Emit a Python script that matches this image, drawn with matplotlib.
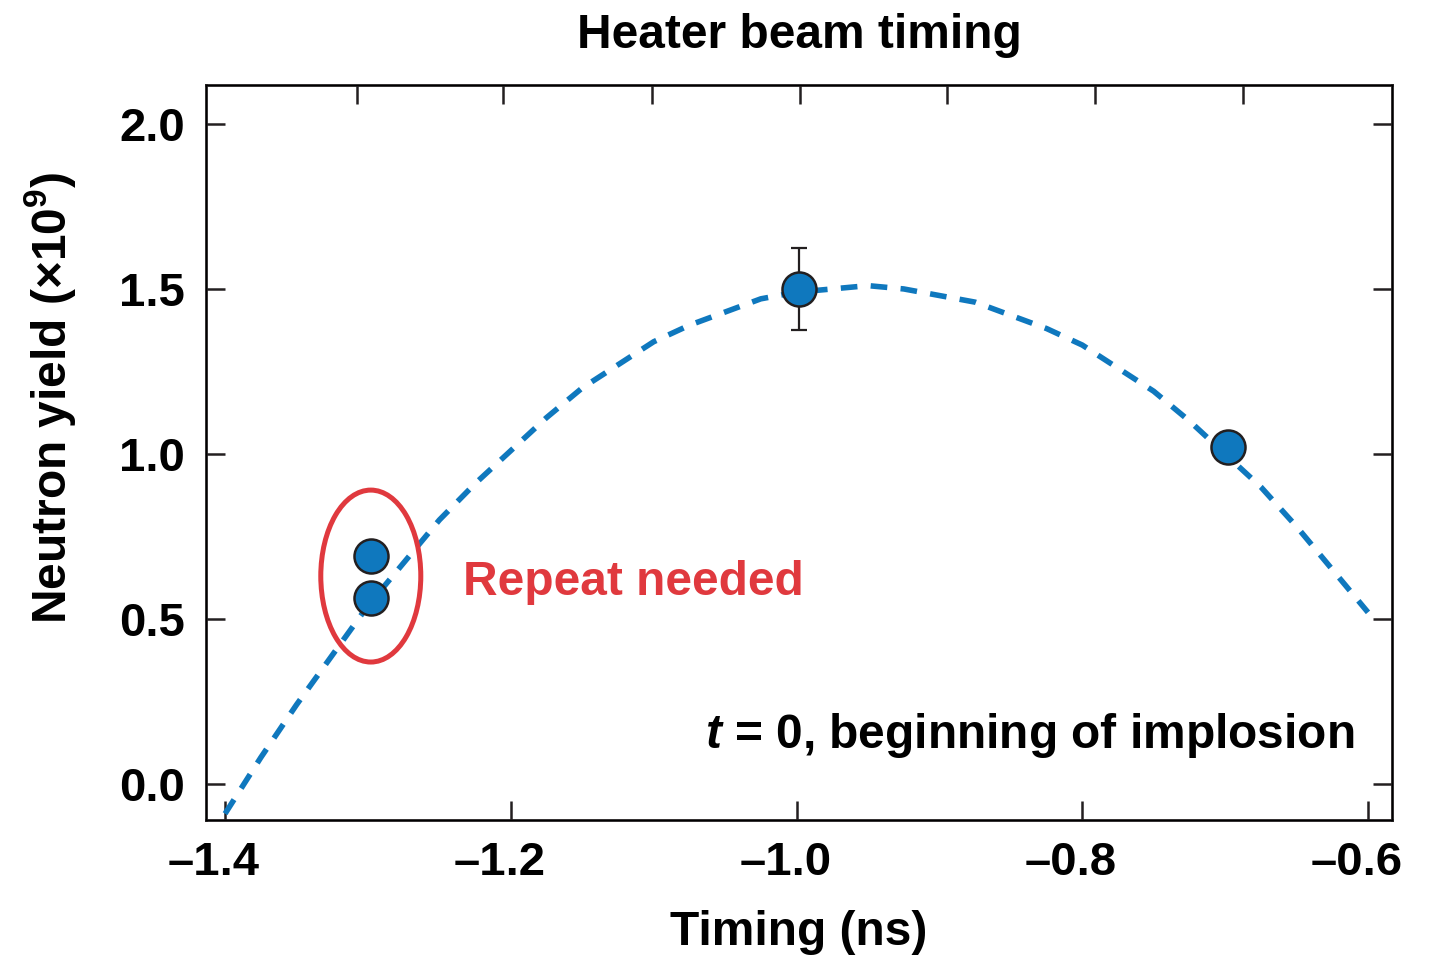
import numpy as np
import matplotlib.pyplot as plt
from matplotlib.patches import Ellipse
from matplotlib.transforms import ScaledTranslation

plt.rcParams['font.family'] = ['Liberation Sans', 'DejaVu Sans']
plt.rcParams['font.weight'] = 'bold'
plt.rcParams['mathtext.fontset'] = 'custom'
plt.rcParams['mathtext.rm'] = 'Liberation Sans:bold'
plt.rcParams['mathtext.bf'] = 'Liberation Sans:bold'
plt.rcParams['mathtext.it'] = 'Liberation Sans:bold:italic'

# measured shots
timing = [-1.298, -1.298, -0.998, -0.698]
neutron_yield = [0.69, 0.565, 1.50, 1.02]
yield_err = [0.0, 0.0, 0.125, 0.0]

# dashed fit curve
fit_t = [-1.40, -1.375, -1.35, -1.325, -1.30, -1.275, -1.25, -1.225, -1.20,
         -1.175, -1.15, -1.125, -1.10, -1.075, -1.05, -1.025, -1.00,
         -0.975, -0.95, -0.925, -0.90, -0.875, -0.85, -0.825, -0.80,
         -0.775, -0.75, -0.725, -0.70, -0.675, -0.65, -0.625, -0.60]
fit_y = [-0.09, 0.08, 0.24, 0.39, 0.54, 0.67, 0.80, 0.91, 1.01,
         1.11, 1.20, 1.27, 1.34, 1.39, 1.43, 1.47, 1.49,
         1.50, 1.51, 1.50, 1.48, 1.46, 1.42, 1.38, 1.33,
         1.26, 1.19, 1.10, 1.00, 0.90, 0.78, 0.65, 0.52]

xticks = [-1.4, -1.2, -1.0, -0.8, -0.6]
xticklabels = ['\u20131.4', '\u20131.2', '\u20131.0', '\u20130.8', '\u20130.6']
yticks = [0.0, 0.5, 1.0, 1.5, 2.0]
yticklabels = ['0.0', '0.5', '1.0', '1.5', '2.0']
top_ticks = [-1.3077, -1.2056, -1.1014, -0.9979, -0.8944, -0.7909, -0.6874]

blue = '#0F78BE'
red = '#E0393E'
dark = '#231F20'

fig = plt.figure(figsize=(14.29, 9.58), dpi=100)
ax = fig.add_axes([0.1442, 0.1441, 0.9741 - 0.1442, 0.9113 - 0.1441])

ax.plot(fit_t, fit_y, color=blue, lw=4.0, dashes=(3.0, 2.4), zorder=2)

for t, y, e in zip(timing, neutron_yield, yield_err):
    if e > 0:
        ax.errorbar(t, y, yerr=e, fmt='none', ecolor=dark, elinewidth=1.6,
                    capsize=6, capthick=1.6, zorder=3)
ax.plot(timing, neutron_yield, 'o', ms=24.5, mfc=blue, mec=dark, mew=1.8,
        ls='none', zorder=4)

ax.add_patch(Ellipse((-1.298, 0.63), 0.070, 0.521, fill=False, ec=red, lw=3.6, zorder=5))

ax.text(-1.2336, 0.573, 'Repeat needed', color=red, fontsize=34.5,
        fontweight='bold', ha='left', va='baseline')
ax.text(-0.6098, 0.109, '$t$ = 0, beginning of implosion', color='black',
        fontsize=34.5, fontweight='bold', ha='right', va='baseline')

ax.set_xlim(-1.4133, -0.5832)
ax.set_ylim(-0.109, 2.118)
ax.set_xticks(xticks)
ax.set_xticklabels(xticklabels)
ax.set_yticks(yticks)
ax.set_yticklabels(yticklabels)
ax.tick_params(axis='both', direction='in', length=14, width=1.8, color=dark,
               labelsize=34, right=True, top=False)
ax.tick_params(axis='x', pad=15)
ax.tick_params(axis='y', pad=15)
shift = ScaledTranslation(-8 / 72, 0, fig.dpi_scale_trans)
for lab in ax.get_xticklabels():
    lab.set_transform(lab.get_transform() + shift)
for s in ax.spines.values():
    s.set_linewidth(2.0)
    s.set_color(dark)

ax2 = ax.twiny()
ax2.set_xlim(ax.get_xlim())
ax2.set_xticks(top_ticks)
ax2.set_xticklabels([])
ax2.tick_params(axis='x', direction='in', length=14, width=1.8, color=dark)

ax.set_xlabel('Timing (ns)', fontsize=34.5, fontweight='bold', labelpad=18)
ax.set_ylabel(r'Neutron yield ($\times$10$^{9}$)', fontsize=34.5, fontweight='bold')
ax.yaxis.set_label_coords(-0.108, 0.575)
fig.text(0.5595, 0.95, 'Heater beam timing', fontsize=34.5, fontweight='bold',
         ha='center', va='baseline')

fig.savefig('out.png', dpi=100)
